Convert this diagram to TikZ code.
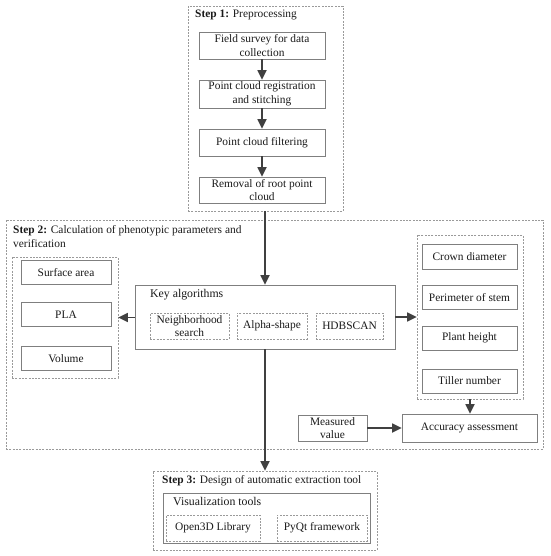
\documentclass[tikz,border=0pt]{standalone}
\usepackage{fontspec}
\setmainfont{Liberation Serif}
\usepackage{tikz}
\usepackage{xcolor}
\usetikzlibrary{arrows.meta,positioning}
\definecolor{ink}{HTML}{1A1A1A}
\definecolor{boxgray}{HTML}{7F7F7F}
\definecolor{dashgray}{HTML}{9A9A9A}
\definecolor{arrgray}{HTML}{404040}
\tikzset{
  card/.style={draw=boxgray,fill=white,line width=0.6pt,align=center,
               inner sep=2pt,font=\fontsize{11.4}{13.6}\selectfont,text=ink},
  dashcard/.style={draw=dashgray,line width=0.6pt,dash pattern=on 2pt off 1.3pt,
                   align=center,inner sep=2pt,
                   font=\fontsize{11.4}{13.6}\selectfont,text=ink},
  panel/.style={draw=dashgray,line width=0.6pt,dash pattern=on 2pt off 1.3pt,
                inner sep=0pt},
  steptitle/.style={anchor=north west,inner sep=0pt,align=left,
                    font=\fontsize{11.4}{14}\selectfont,text=ink},
  grptitle/.style={anchor=north west,inner sep=0pt,
                   font=\fontsize{11.8}{13}\selectfont,text=ink},
  arr/.style={-{Triangle[length=9.5pt,width=9pt]},line width=1.7pt,draw=arrgray}
}
\begin{document}
\begin{tikzpicture}[x=1pt,y=-1pt]
    \path[use as bounding box] (0,0) rectangle (550,556);
    % step 1
    \node[panel,minimum width=155pt,minimum height=205pt] (step1) at (265.5,108.5) {};
    \node[steptitle] (t1) at (195,10) {\textbf{Step 1:} Preprocessing};
    \node[card,minimum width=126pt,minimum height=27pt] (survey) at (262,45.5)
      {Field survey for data\\collection};
    \node[card,minimum width=126pt,minimum height=28pt] (regis) at (262,94)
      {Point cloud registration\\and stitching};
    \node[card,minimum width=126pt,minimum height=27pt] (filter) at (262,142.5)
      {Point cloud filtering};
    \node[card,minimum width=126pt,minimum height=26pt] (root) at (262,190)
      {Removal of root point\\cloud};
    \draw[arr] (survey) -- (regis);
    \draw[arr] (regis) -- (filter);
    \draw[arr] (filter) -- (root);

    % step 2
    \node[panel,minimum width=537pt,minimum height=229pt] (step2) at (274.5,334.5) {};
    \node[steptitle] (t2) at (13,225)
      {\textbf{Step 2:} Calculation of phenotypic parameters and\\verification};
    \node[panel,minimum width=106pt,minimum height=121pt] (leftgrp) at (65,317.5) {};
    \node[card,minimum width=90pt,minimum height=24pt] (surf) at (66,272.5) {Surface area};
    \node[card,minimum width=90pt,minimum height=24pt] (pla) at (66,314.5) {PLA};
    \node[card,minimum width=90pt,minimum height=24pt] (vol) at (66,358.5) {Volume};
    \node[card,minimum width=260pt,minimum height=64pt] (key) at (265,317) {};
    \node[grptitle] (keyt) at (150,289) {Key algorithms};
    \node[dashcard,minimum width=79pt,minimum height=26pt] (nbr) at (189.5,326)
      {Neighborhood\\search};
    \node[dashcard,minimum width=70pt,minimum height=26pt] (alpha) at (272,326) {Alpha-shape};
    \node[dashcard,minimum width=67pt,minimum height=26pt] (hdb) at (349.5,326) {HDBSCAN};
    \node[panel,minimum width=106pt,minimum height=164pt] (rightgrp) at (470,317) {};
    \node[card,minimum width=95pt,minimum height=25pt] (crown) at (469.5,256.5) {Crown diameter};
    \node[card,minimum width=95pt,minimum height=24pt] (perim) at (469.5,297.5) {Perimeter of stem};
    \node[card,minimum width=95pt,minimum height=24pt] (height) at (469.5,338) {Plant height};
    \node[card,minimum width=95pt,minimum height=24pt] (tiller) at (469.5,381) {Tiller number};
    \node[card,minimum width=135pt,minimum height=28pt] (acc) at (469.5,428) {Accuracy assessment};
    \node[card,minimum width=69pt,minimum height=26pt] (meas) at (332.5,428) {Measured\\value};
    \draw[arr] (step1.south -| key.north) -- (key.north);
    \draw[arr] (key.west |- leftgrp.east) -- (leftgrp.east);
    \draw[arr] (key.east |- rightgrp.west) -- (rightgrp.west);
    \draw[arr] (rightgrp.south) -- (rightgrp.south |- acc.north);
    \draw[arr] (meas) -- (acc);

    % step 3
    \node[panel,minimum width=224pt,minimum height=79pt] (step3) at (265,510.5) {};
    \node[steptitle] (t3) at (162,475) {\textbf{Step 3:} Design of automatic extraction tool};
    \node[card,minimum width=207pt,minimum height=50pt] (vis) at (266.5,518) {};
    \node[grptitle] (vist) at (173,497) {Visualization tools};
    \node[dashcard,minimum width=94pt,minimum height=26pt] (o3d) at (213,528) {Open3D Library};
    \node[dashcard,minimum width=90pt,minimum height=26pt] (pyqt) at (322,528) {PyQt framework};
    \draw[arr] (key.south) -- (key.south |- step3.north);
  \end{tikzpicture}
\end{document}
